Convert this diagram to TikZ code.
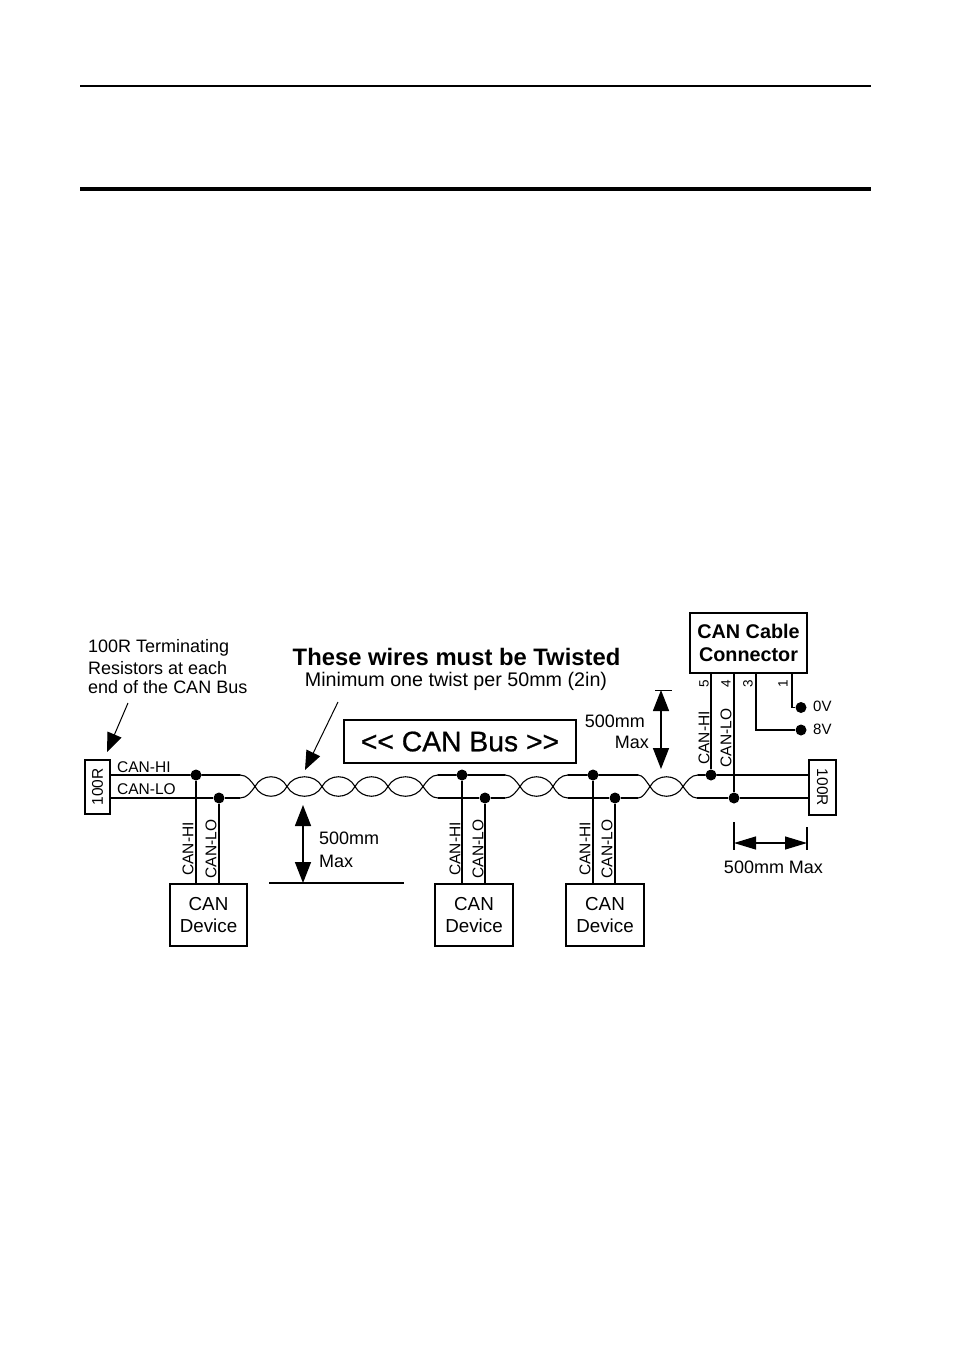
\documentclass[tikz,border=0pt]{standalone}
\usepackage{fontspec}
\setmainfont{Liberation Sans}
\newfontfamily\busfont[FakeBold=0.7]{Liberation Sans}
\usetikzlibrary{arrows.meta}
\newcommand{\fs}[1]{\fontsize{#1pt}{#1pt}\selectfont}
\tikzset{
  x=1pt,y=-1pt,
  wirebox/.style={draw,line width=1.5pt,inner sep=0pt,align=center,fill=white},
  devbox/.style={wirebox,minimum width=77pt,minimum height=62pt,font=\fs{18.8},text depth=0pt},
  wire/.style={line width=1.7pt},
  thinwire/.style={line width=1.1pt,line cap=round},
  junction/.style={circle,fill=black,draw=none,inner sep=0pt,minimum size=11pt},
  lab/.style={inner sep=0pt,font=\fs{15.5},rotate=90},
  pin/.style={inner sep=0pt,font=\fs{13.5},rotate=90},
  txt/.style={inner sep=0pt,align=left,font=\fs{18}},
  dim/.style={line width=1.5pt,-{Triangle[length=21pt,width=16pt]}},
  dimh/.style={line width=1.2pt,-{Triangle[length=22pt,width=13pt]}},
  callout/.style={line width=1pt,-{Triangle[length=19pt,width=15pt]}},
}
\newcommand{\lobe}[2]{%
  \draw[thinwire] (#1,786.5) .. controls ({#1+7},773.5) and ({#2-7},773.5) .. (#2,786.5);
  \draw[thinwire] (#1,786.5) .. controls ({#1+7},799.5) and ({#2-7},799.5) .. (#2,786.5);}
\begin{document}
\begin{tikzpicture}
\useasboundingbox[fill=white] (0,0) rectangle (954,1349);
% page rules
\coordinate (r1a) at (80,86); \coordinate (r1b) at (871,86);
\coordinate (r2a) at (80,189); \coordinate (r2b) at (871,189);
\draw[line width=1.5pt] (r1a) -- (r1b);
\draw[line width=4.5pt] (r2a) -- (r2b);
% terminators
\node[wirebox,minimum width=25pt,minimum height=54pt] (rl) at (97.5,787) {\rotatebox{90}{\fs{15.5}100R}};
\node[wirebox,minimum width=27pt,minimum height=55pt] (rr) at (822.5,787.5) {\rotatebox{-90}{\fs{15.5}100R}};
% junctions
\node[junction] (h1) at (196,775) {};
\node[junction] (l1) at (219,798) {};
\node[junction] (h2) at (462,775) {};
\node[junction] (l2) at (485,798) {};
\node[junction] (h3) at (593,775) {};
\node[junction] (l3) at (615,798) {};
\node[junction] (h4) at (711,775) {};
\node[junction] (l4) at (734,798) {};
\node[junction] (v0) at (801,707.5) {};
\node[junction] (v8) at (801,730) {};
% boxes
\node[devbox] (d1) at (208.5,915) {CAN\\[3pt]Device};
\node[devbox,minimum width=78pt] (d2) at (474,915) {CAN\\[3pt]Device};
\node[devbox,minimum width=78pt] (d3) at (605,915) {CAN\\[3pt]Device};
\node[wirebox,minimum width=117pt,minimum height=60pt,font=\bfseries\fs{19.8}] (con) at (748.5,643) {CAN Cable\\[3pt]Connector};
\node[wirebox,minimum width=232pt,minimum height=43pt,font=\busfont\fs{28.3}] (bus) at (460,741.5) {<{}< CAN Bus >{}>};
% twist ends
\coordinate (ha) at (240,775); \coordinate (la) at (240,798);
\coordinate (hb) at (438,775); \coordinate (lb) at (438,798);
\coordinate (hc) at (505,775); \coordinate (lc) at (505,798);
\coordinate (hd) at (568,775); \coordinate (ld) at (568,798);
\coordinate (he) at (638,775); \coordinate (le) at (638,798);
\coordinate (hf) at (698,775); \coordinate (lf) at (697,798);
% bus wires
\draw[thinwire] (rl.east |- h1) -- (h1) -- (ha);
\draw[wire] (rl.east |- l1) -- (l1) -- (la);
\draw[thinwire] (ha) .. controls (247,775) and (251,781) .. (255,786.5);
\draw[thinwire] (la) .. controls (247,798) and (251,792) .. (255,786.5);
\lobe{255}{287}\lobe{287}{322}\lobe{322}{355}\lobe{355}{388}\lobe{388}{423}
\draw[thinwire] (423,786.5) .. controls (427,781) and (431,775) .. (hb);
\draw[thinwire] (423,786.5) .. controls (427,792) and (431,798) .. (lb);
\draw[thinwire] (hb) -- (h2) -- (hc);
\draw[wire] (lb) -- (l2) -- (lc);
\draw[thinwire] (hc) .. controls (512,775) and (516,781) .. (520,786.5);
\draw[thinwire] (lc) .. controls (512,798) and (516,792) .. (520,786.5);
\lobe{520}{553}
\draw[thinwire] (553,786.5) .. controls (556,781) and (561,775) .. (hd);
\draw[thinwire] (553,786.5) .. controls (556,792) and (561,798) .. (ld);
\draw[thinwire] (hd) -- (h3) -- (he);
\draw[wire] (ld) -- (l3) -- (le);
\draw[thinwire] (he) .. controls (643,775) and (646,781) .. (650,786.5);
\draw[thinwire] (le) .. controls (643,798) and (646,792) .. (650,786.5);
\lobe{650}{683}
\draw[thinwire] (683,786.5) .. controls (687,781) and (691,775) .. (hf);
\draw[thinwire] (683,786.5) .. controls (687,792) and (691,798) .. (lf);
\draw[thinwire] (hf) -- (h4) -- (rr.west |- h4);
\draw[wire] (lf) -- (l4) -- (rr.west |- l4);
% drops
\draw[wire] (h1) -- (h1 |- d1.north);
\draw[wire] (l1) -- (l1 |- d1.north);
\draw[wire] (h2) -- (h2 |- d2.north);
\draw[wire] (l2) -- (l2 |- d2.north);
\draw[wire] (h3) -- (h3 |- d3.north);
\draw[wire] (l3) -- (l3 |- d3.north);
% connector wires
\draw[wire] (h4) -- (h4 |- con.south);
\draw[wire] (l4) -- (l4 |- con.south);
\coordinate (p3) at (756,673); \coordinate (p1) at (792,673);
\draw[wire] (p3) |- (v8);
\draw[wire] (p1) |- (v0);
% labels on wires
\node[inner sep=0pt,anchor=west,font=\fs{15.5}] (tl1) at (117,767) {CAN-HI};
\node[inner sep=0pt,anchor=west,font=\fs{15.5}] (tl2) at (117,789) {CAN-LO};
\node[lab] (a1) at (188,849) {CAN-HI};
\node[lab] (a2) at (211,849) {CAN-LO};
\node[lab] (a3) at (455,849) {CAN-HI};
\node[lab] (a4) at (478,849) {CAN-LO};
\node[lab] (a5) at (585,849) {CAN-HI};
\node[lab] (a6) at (607,849) {CAN-LO};
\node[lab] (a7) at (704,738) {CAN-HI};
\node[lab] (a8) at (726,738) {CAN-LO};
\node[pin] (n5) at (704,684) {5};
\node[pin] (n4) at (726,684) {4};
\node[pin] (n3) at (748,684) {3};
\node[pin] (n1) at (783,684) {1};
\node[inner sep=0pt,anchor=west,font=\fs{15}] (t0) at (813,706) {0V};
\node[inner sep=0pt,anchor=west,font=\fs{15}] (t8) at (813,729) {8V};
% annotation text
\node[txt,anchor=west] (t1) at (88,648) {100R Terminating};
\node[txt,anchor=west] (t2) at (88,668) {Resistors at each};
\node[txt,anchor=west] (t3) at (88,687) {end of the CAN Bus};
\node[inner sep=0pt,font=\bfseries\fs{23.8}] (tw) at (456.5,657) {These wires must be Twisted};
\node[inner sep=0pt,font=\fs{19.7}] (tm) at (456,681) {Minimum one twist per 50mm (2in)};
% callouts
\coordinate (c1a) at (128,703); \coordinate (c1b) at (107,752);
\coordinate (c2a) at (338,702); \coordinate (c2b) at (305,770);
\draw[callout] (c1a) -- (c1b);
\draw[callout] (c2a) -- (c2b);
% 500mm lower
\coordinate (m1) at (303,843); \coordinate (m1t) at (303,805); \coordinate (m1b) at (303,883);
\coordinate (g1) at (269,883); \coordinate (g2) at (404,883);
\draw[line width=1.5pt] (g1) -- (g2);
\draw[dim] (m1) -- (m1t);
\draw[dim] (m1) -- (m1b);
\node[txt,anchor=west] (t5) at (319,838) {500mm};
\node[txt,anchor=west] (t6) at (319,861) {Max};
% 500mm upper
\coordinate (m2) at (661,730); \coordinate (m2t) at (661,690); \coordinate (m2b) at (661,769);
\coordinate (g3) at (655,690.5); \coordinate (g4) at (672,690.5);
\draw[line width=1pt] (g3) -- (g4);
\draw[dim] (m2) -- (m2t);
\draw[dim] (m2) -- (m2b);
\node[txt,anchor=east] (t7) at (645,721) {500mm};
\node[txt,anchor=east] (t9) at (649,742) {Max};
% 500mm right
\coordinate (m3) at (771,843); \coordinate (m3l) at (734,843); \coordinate (m3r) at (807,843);
\coordinate (k1) at (734,822); \coordinate (k2) at (734,850);
\coordinate (k3) at (807,827); \coordinate (k4) at (807,850);
\draw[line width=1.4pt] (k1) -- (k2);
\draw[line width=1.4pt] (k3) -- (k4);
\draw[dimh] (m3) -- (m3l);
\draw[dimh] (m3) -- (m3r);
\node[txt] (t10) at (773.5,867.5) {500mm Max};
\end{tikzpicture}
\end{document}
